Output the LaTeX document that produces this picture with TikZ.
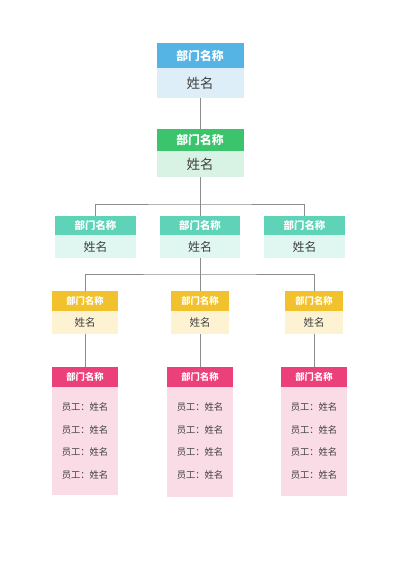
\documentclass[tikz,border=0pt]{standalone}
\usepackage{fontspec}
\setmainfont{Noto Sans CJK SC}
\definecolor{bluH}{HTML}{56B4E4}
\definecolor{bluB}{HTML}{DDEEF9}
\definecolor{grnH}{HTML}{3CC46C}
\definecolor{grnB}{HTML}{D8F3E3}
\definecolor{tealH}{HTML}{5ED3B8}
\definecolor{tealB}{HTML}{E0F7F1}
\definecolor{yelH}{HTML}{F2C12E}
\definecolor{yelB}{HTML}{FDF2D2}
\definecolor{pnkH}{HTML}{EC407A}
\definecolor{pnkB}{HTML}{FADCE6}
\definecolor{lineC}{HTML}{8C8C8C}
\definecolor{txtC}{HTML}{404040}
\begin{document}
\begin{tikzpicture}[x=1pt,y=-1pt,
  box/.style={anchor=north west,inner sep=0pt,outer sep=0pt,draw=none},
  hdr/.style={box,text=white,font=\bfseries\fontsize{#1}{#1}\selectfont},
  bdy/.style={box,text=txtC,font=\fontsize{#1}{#1}\selectfont},
  emp/.style={text=txtC,inner sep=0pt,font=\fontsize{9.3}{9.3}\selectfont},
  conn/.style={draw=lineC,line width=0.8pt}]
\useasboundingbox[fill=white] (0,0) rectangle (400,565);

% level 1
\node[hdr=11.8,fill=bluH,minimum width=87pt,minimum height=25pt] (h1) at (156.5,43) {部门名称};
\node[bdy=13.5,fill=bluB,minimum width=87pt,minimum height=30pt] (b1) at (156.5,68) {姓名};
% level 2
\node[hdr=11.8,fill=grnH,minimum width=87pt,minimum height=22pt] (h2) at (156.5,129) {部门名称};
\node[bdy=13.5,fill=grnB,minimum width=87pt,minimum height=26pt] (b2) at (156.5,151) {姓名};
% level 3
\node[hdr=10.4,fill=tealH,minimum width=81pt,minimum height=19pt] (h3a) at (55,216) {部门名称};
\node[bdy=11.9,fill=tealB,minimum width=81pt,minimum height=23pt] (b3a) at (55,235) {姓名};
\node[hdr=10.4,fill=tealH,minimum width=80pt,minimum height=19pt] (h3b) at (160,216) {部门名称};
\node[bdy=11.9,fill=tealB,minimum width=80pt,minimum height=23pt] (b3b) at (160,235) {姓名};
\node[hdr=10.4,fill=tealH,minimum width=81pt,minimum height=19pt] (h3c) at (264,216) {部门名称};
\node[bdy=11.9,fill=tealB,minimum width=81pt,minimum height=23pt] (b3c) at (264,235) {姓名};
% level 4
\node[hdr=9.3,fill=yelH,minimum width=66pt,minimum height=20pt] (h4a) at (52,291) {部门名称};
\node[bdy=10.5,fill=yelB,minimum width=66pt,minimum height=23pt] (b4a) at (52,311) {姓名};
\node[hdr=9.3,fill=yelH,minimum width=58pt,minimum height=20pt] (h4b) at (171,291) {部门名称};
\node[bdy=10.5,fill=yelB,minimum width=58pt,minimum height=23pt] (b4b) at (171,311) {姓名};
\node[hdr=9.3,fill=yelH,minimum width=58pt,minimum height=20pt] (h4c) at (285,291) {部门名称};
\node[bdy=10.5,fill=yelB,minimum width=58pt,minimum height=23pt] (b4c) at (285,311) {姓名};
% level 5
\node[hdr=9.3,fill=pnkH,minimum width=66pt,minimum height=20pt] (h5a) at (52,367) {部门名称};
\node[box,fill=pnkB,minimum width=66pt,minimum height=108pt] (b5a) at (52,387) {};
\node[hdr=9.3,fill=pnkH,minimum width=66pt,minimum height=20pt] (h5b) at (167,367) {部门名称};
\node[box,fill=pnkB,minimum width=66pt,minimum height=110pt] (b5b) at (167,387) {};
\node[hdr=9.3,fill=pnkH,minimum width=66pt,minimum height=20pt] (h5c) at (281,367) {部门名称};
\node[box,fill=pnkB,minimum width=66pt,minimum height=109pt] (b5c) at (281,387) {};

\foreach \c/\x in {a/85,b/200,c/314}{
  \node[emp] (e\c1) at (\x,407) {员工：姓名};
  \node[emp] (e\c2) at (\x,429.5) {员工：姓名};
  \node[emp] (e\c3) at (\x,452) {员工：姓名};
  \node[emp] (e\c4) at (\x,475) {员工：姓名};
}

% connectors
\coordinate (j1) at (200,204);
\coordinate (j2) at (200,274);
\draw[conn] (b1.south) -- (h2.north);
\draw[conn] (b2.south) -- (j1);
\draw[conn] (h3a.north) |- (j1) -| (h3c.north);
\draw[conn] (j1) -- (h3b.north);
\draw[conn] (b3b.south) -- (j2);
\draw[conn] (h4a.north) |- (j2) -| (h4c.north);
\draw[conn] (j2) -- (h4b.north);
\draw[conn] (b4a.south) -- (h5a.north);
\draw[conn] (b4b.south) -- (h5b.north);
\draw[conn] (b4c.south) -- (h5c.north);
\end{tikzpicture}
\end{document}
